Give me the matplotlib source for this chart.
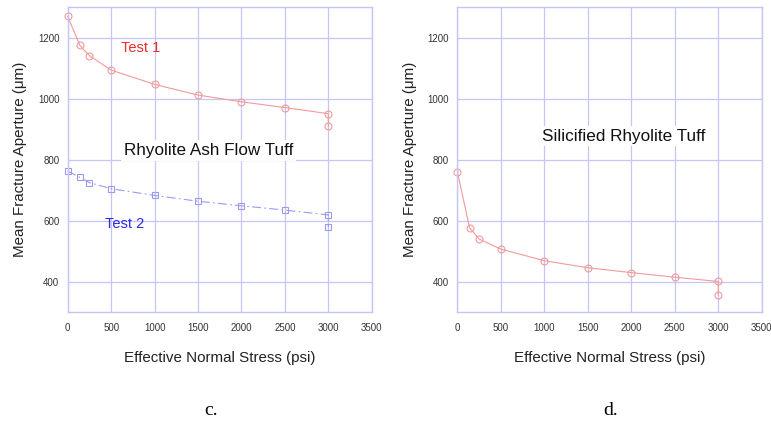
import matplotlib
matplotlib.use("Agg")
import matplotlib.pyplot as plt

plt.rcParams["font.family"] = ["Liberation Sans", "DejaVu Sans"]

# panel c: rhyolite ash flow tuff
stress_c = [0, 140, 250, 500, 1000, 1500, 2000, 2500, 3000, 3000]
test1 = [1270, 1175, 1141, 1094, 1047, 1012, 990, 971, 951, 910]
test2 = [763, 742, 725, 705, 683, 664, 649, 635, 619, 579]

# panel d: silicified rhyolite tuff
stress_d = [0, 140, 250, 500, 1000, 1500, 2000, 2500, 3000, 3000]
silicified = [761, 577, 540, 507, 469, 446, 430, 415, 401, 357]

x_ticks = [0, 500, 1000, 1500, 2000, 2500, 3000, 3500]
y_ticks = [400, 600, 800, 1000, 1200]

grid_col = "#c6c6f6"
red_line = "#f29a9a"
blue_line = "#9a9af0"


def style_axes(ax):
    ax.set_xlim(0, 3500)
    ax.set_ylim(300, 1300)
    ax.set_xticks(x_ticks)
    ax.set_yticks(y_ticks)
    ax.grid(True, color=grid_col, linewidth=0.9)
    ax.set_axisbelow(True)
    for s in ax.spines.values():
        s.set_color(grid_col)
        s.set_linewidth(1.0)
    ax.tick_params(length=0, labelsize=7, labelcolor="#333333")
    ax.tick_params(axis="x", pad=8)
    ax.tick_params(axis="y", pad=6)
    ax.set_xlabel("Effective Normal Stress (psi)", fontsize=10.9, labelpad=13, color="#222222")
    ax.set_ylabel("Mean Fracture Aperture (\u03bcm)", fontsize=10.9, labelpad=7.5, color="#222222")


fig = plt.figure(figsize=(7.71, 4.24), dpi=100)
ax1 = fig.add_axes([0.0878, 0.2635, 0.3944, 0.7195])
ax2 = fig.add_axes([0.5932, 0.2635, 0.3948, 0.7195])

style_axes(ax1)
ax1.plot(stress_c, test1, color=red_line, lw=0.8, marker="o", ms=5,
         mfc="none", mec=red_line, mew=0.8, clip_on=False)
ax1.plot(stress_c, test2, color=blue_line, lw=0.8, ls=(0, (8, 3, 1.5, 3)), marker="s", ms=5,
         mfc="none", mec=blue_line, mew=0.8, clip_on=False)
ax1.text(844, 1165, "Test 1", color="#f22a2a", fontsize=10.5, ha="center", va="center")
ax1.text(659, 590, "Test 2", color="#2a2ae6", fontsize=10.5, ha="center", va="center")
ax1.text(1621, 831, "Rhyolite Ash Flow Tuff", color="#111111", fontsize=12.3,
         ha="center", va="center",
         bbox=dict(facecolor="white", edgecolor="none", pad=2))

style_axes(ax2)
ax2.plot(stress_d, silicified, color=red_line, lw=0.8, marker="o", ms=5,
         mfc="none", mec=red_line, mew=0.8, clip_on=False)
ax2.text(1913, 877, "Silicified Rhyolite Tuff", color="#111111", fontsize=12.3,
         ha="center", va="center",
         bbox=dict(facecolor="white", edgecolor="none", pad=2))

fig.text(0.274, 0.032, "c.", fontsize=14, family="Liberation Serif", ha="center", va="center")
fig.text(0.792, 0.032, "d.", fontsize=14, family="Liberation Serif", ha="center", va="center")

fig.savefig("out.png", dpi=100, facecolor="white")
